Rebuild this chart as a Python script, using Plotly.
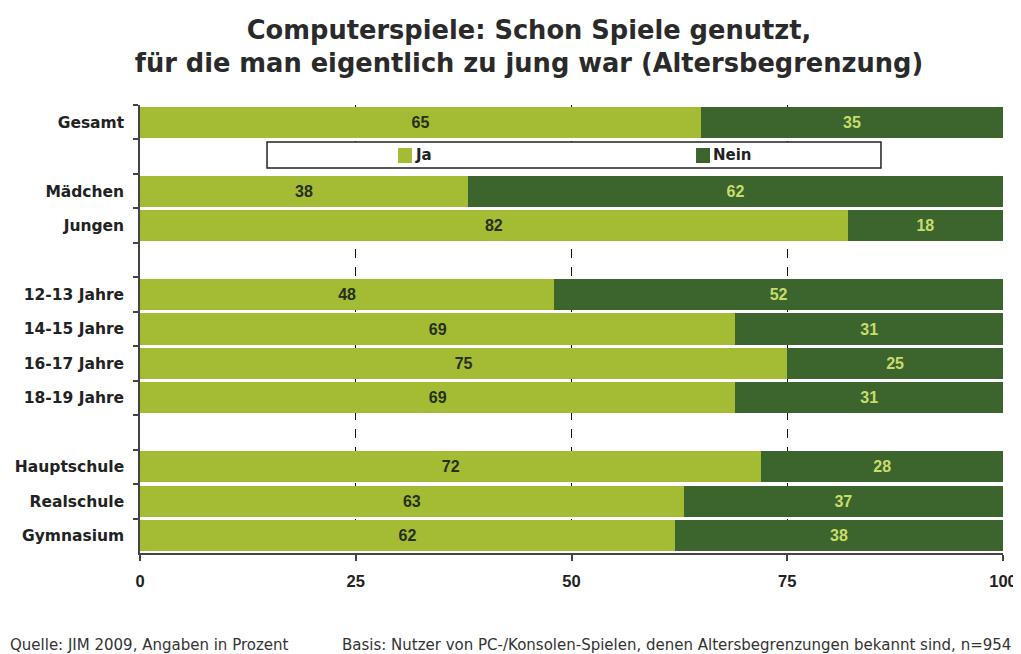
import plotly.graph_objects as go

categories = ["Gesamt", " ", "Mädchen", "Jungen", "  ", "12-13 Jahre", "14-15 Jahre",
              "16-17 Jahre", "18-19 Jahre", "   ", "Hauptschule", "Realschule", "Gymnasium"]
ja = [65, None, 38, 82, None, 48, 69, 75, 69, None, 72, 63, 62]
nein = [35, None, 62, 18, None, 52, 31, 25, 31, None, 28, 37, 38]
x_ticks = [0, 25, 50, 75, 100]
series_names = ["Ja", "Nein"]

JA_COLOR = "#a3bc34"
NEIN_COLOR = "#3c642d"
WIDE = "DejaVu Sans, Verdana, sans-serif"
ARIAL = "Liberation Sans, Arial, sans-serif"
NARROW = "Liberation Sans Narrow, Arial Narrow, Liberation Sans, sans-serif"

fig = go.Figure()
fig.add_trace(go.Bar(
    y=categories, x=ja, orientation="h", name=series_names[0], marker_color=JA_COLOR,
    marker_line_width=0,
    text=[str(v) if v is not None else "" for v in ja], textposition="inside",
    insidetextanchor="middle", textangle=0,
    textfont=dict(family=ARIAL, size=16, color="#26301a", weight="bold"),
    hoverinfo="x+y",
))
fig.add_trace(go.Bar(
    y=categories, x=nein, orientation="h", name=series_names[1], marker_color=NEIN_COLOR,
    marker_line_width=0,
    text=[str(v) if v is not None else "" for v in nein], textposition="inside",
    insidetextanchor="middle", textangle=0,
    textfont=dict(family=ARIAL, size=16, color="#c8dc6c", weight="bold"),
    hoverinfo="x+y",
))

# legend frame and entries (drawn in the empty slot under "Gesamt")
fig.add_shape(type="rect", xref="paper", yref="paper", x0=0.1472, x1=0.8586, y0=0.8594, y1=0.9174,
              line=dict(color="#222222", width=1.5), fillcolor="white", layer="above")
legend_items = [(series_names[0], JA_COLOR, 0.2990), (series_names[1], NEIN_COLOR, 0.6443)]
for name, color, x0 in legend_items:
    fig.add_shape(type="rect", xref="paper", yref="paper", x0=x0, x1=x0 + 0.0162,
                  y0=0.8705, y1=0.9040, line_width=0, fillcolor=color, layer="above")
    fig.add_annotation(text=name, xref="paper", yref="paper", x=x0 + 0.0168, y=0.8873,
                       xanchor="left", yanchor="middle", showarrow=False,
                       font=dict(family=WIDE, size=15, color="#222222", weight="bold"))

fig.update_layout(
    width=1013, height=646,
    margin=dict(l=132, r=18, t=97, b=101),
    paper_bgcolor="white", plot_bgcolor="white",
    barmode="stack", bargap=0.1,
    title=dict(text="Computerspiele: Schon Spiele genutzt,<br>für die man eigentlich zu jung war (Altersbegrenzung)",
               x=0.5143, xanchor="center", y=0.952, yanchor="top",
               font=dict(family=WIDE, size=25.7, color="#2a2a2a", weight="bold")),
    font=dict(family=ARIAL, color="#222222"),
    showlegend=False,
)
fig.update_yaxes(
    type="category", categoryorder="array", categoryarray=categories, autorange="reversed",
    tickson="boundaries", ticks="outside", ticklen=5, tickcolor="#444444", tickwidth=1.5,
    showline=True, linecolor="#444444", linewidth=1.5, showgrid=False,
    ticklabelstandoff=11, automargin=False,
    tickfont=dict(family=WIDE, size=15.5, color="#222222", weight="bold"),
)
fig.update_xaxes(
    range=[0, 100], tickvals=x_ticks, ticktext=[str(v) for v in x_ticks],
    ticks="outside", ticklen=6, tickcolor="#444444", tickwidth=1.5,
    showline=True, linecolor="#444444", linewidth=1.5,
    showgrid=True, gridcolor="#111111", griddash="dash", gridwidth=1,
    zeroline=False, ticklabelstandoff=6, automargin=False,
    tickfont=dict(family=NARROW, size=16.5, color="#222222", weight="bold"),
)

fig.add_annotation(text="Quelle: JIM 2009, Angaben in Prozent", xref="paper", yref="paper",
                   x=-0.153, y=-0.205, xanchor="left", yanchor="middle", showarrow=False,
                   font=dict(family=WIDE, size=15, color="#333333"))
fig.add_annotation(text="Basis: Nutzer von PC-/Konsolen-Spielen, denen Altersbegrenzungen bekannt sind, n=954",
                   xref="paper", yref="paper", x=1.012, y=-0.205, xanchor="right", yanchor="middle",
                   showarrow=False, font=dict(family=WIDE, size=15, color="#333333"))

fig.write_html("out.html")
